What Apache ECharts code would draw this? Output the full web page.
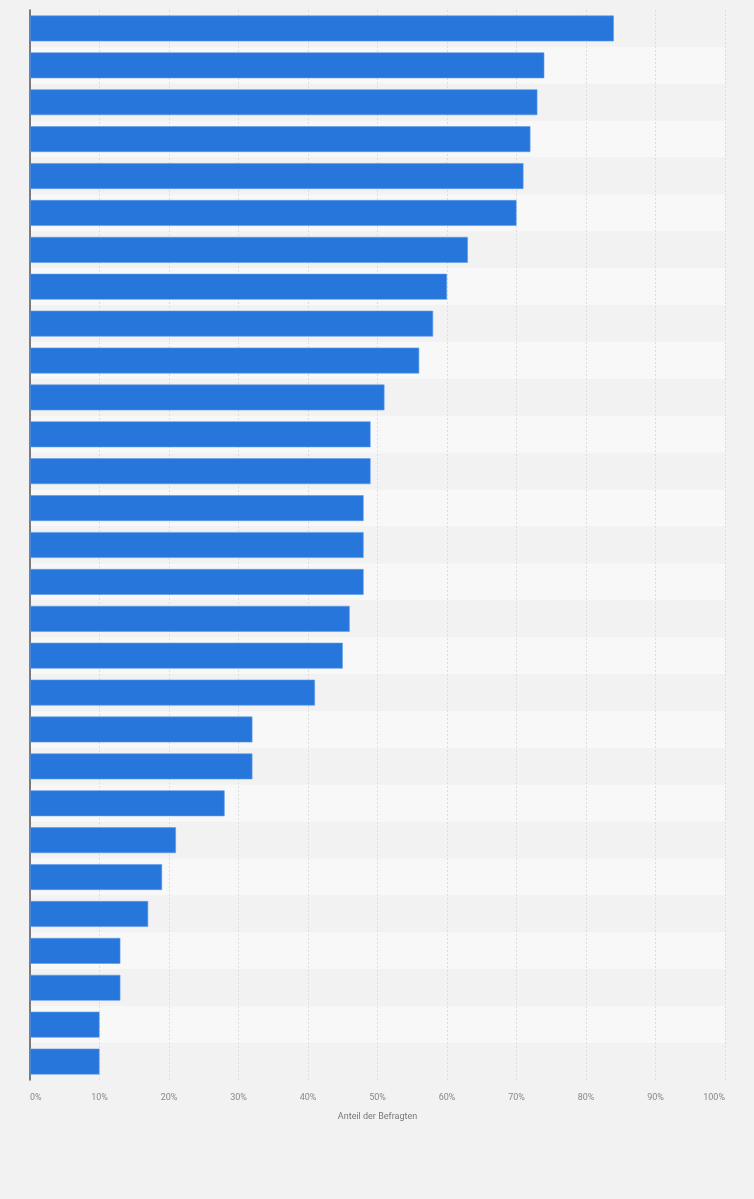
<!DOCTYPE html>
<html>
<head>
<meta charset="utf-8">
<script src="https://cdn.jsdelivr.net/npm/echarts@6/dist/echarts.min.js"></script>
<style>
html,body{margin:0;padding:0;background:#f2f2f2;}
#chart{width:754px;height:1199px;}
</style>
</head>
<body>
<div id="chart"></div>
<script>
const categories = ["1","2","3","4","5","6","7","8","9","10","11","12","13","14","15","16","17","18","19","20","21","22","23","24","25","26","27","28","29"];
const values = [84,74,73,72,71,70,63,60,58,56,51,49,49,48,48,48,46,45,41,32,32,28,21,19,17,13,13,10,10];
const xAxisTitle = "Anteil der Befragten";

const chart = echarts.init(document.getElementById('chart'));
chart.setOption({
  backgroundColor: '#f2f2f2',
  animation: false,
  grid: { left: 30, right: 29, top: 10, bottom: 119, containLabel: false },
  xAxis: {
    type: 'value', min: 0, max: 100, interval: 10,
    name: xAxisTitle, nameLocation: 'middle', nameGap: 32,
    nameTextStyle: { color: '#777', fontSize: 9, fontFamily: 'Roboto, sans-serif' },
    axisLine: { show: false }, axisTick: { show: false },
    axisLabel: { formatter: '{value}%', color: '#888', fontSize: 9, fontFamily: 'Roboto, sans-serif', margin: 13, alignMinLabel: 'left', alignMaxLabel: 'right' },
    splitLine: { show: true, lineStyle: { color: '#dddddd', type: [2, 2], width: 1 } }
  },
  yAxis: {
    type: 'category', data: categories, inverse: true,
    axisLine: { show: true, lineStyle: { color: '#555', width: 1.5 } },
    axisTick: { show: false }, axisLabel: { show: false },
    splitArea: { show: true, areaStyle: { color: ['#f2f2f2', '#f8f8f8'] } }
  },
  series: [{
    type: 'bar', data: values, barCategoryGap: '30%',
    itemStyle: { color: '#2776dc', borderColor: '#5d9be8', borderWidth: 0.6 }
  }]
});
</script>
</body>
</html>
